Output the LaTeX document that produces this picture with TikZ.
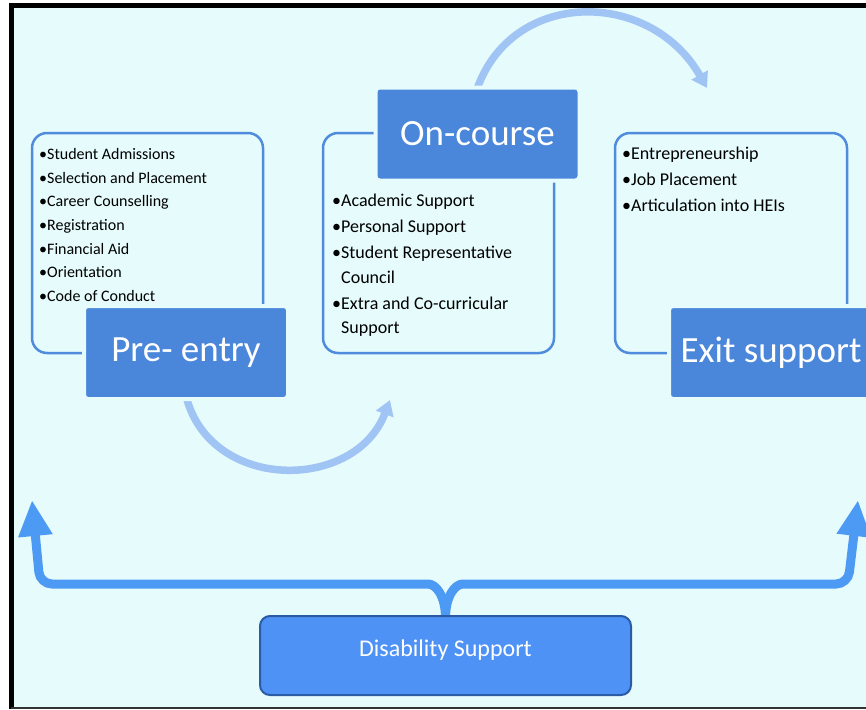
\documentclass[tikz,border=0pt]{standalone}
\usepackage{fontspec}
\setmainfont{Carlito}
\usepackage{xcolor}
\usetikzlibrary{arrows.meta}

\definecolor{paper}{RGB}{230,251,252}
\definecolor{tagblue}{RGB}{74,134,218}
\definecolor{rimblue}{RGB}{80,140,222}
\definecolor{arcblue}{RGB}{160,197,245}
\definecolor{forkblue}{RGB}{77,154,245}
\definecolor{disblue}{RGB}{78,146,246}
\definecolor{disrim}{RGB}{42,92,165}

\begin{document}
\begin{tikzpicture}[x=1pt,y=-1pt,
  panel/.style={draw=rimblue,line width=2.5pt,rounded corners=15pt,minimum width=231pt,minimum height=220pt,inner sep=0pt},
  tagbox/.style={fill=tagblue,draw=paper,line width=4pt,rounded corners=4pt,minimum width=204pt,minimum height=93pt,text=white,font=\fontsize{37}{40}\selectfont},
  items/.style={anchor=north west,inner sep=0pt,align=left,text=black},
  swoop/.style={arcblue,line width=7.5pt,-{Triangle[width=18pt,length=15pt]}},
  fork/.style={forkblue,line width=9pt,-{Triangle[width=32pt,length=36pt]}}]
  \useasboundingbox (0,0) rectangle (866,709);
  \clip (0,0) rectangle (866,709);
  \fill[paper] (11,6) rectangle (866,708);
  \draw[line width=5pt] (11.5,709) -- (11.5,6) -- (866,6);
  \draw[black!80,line width=2pt] (11,708) -- (866,708);

  % the three stages
  \node[panel] (preframe) at (147.5,243) {};
  \node[panel] (onframe) at (438.5,243) {};
  \node[panel,minimum width=232pt] (exitframe) at (731,243) {};

  \node[items,font=\fontsize{16}{23.7}\selectfont] (prelist) at (39,148)
    {\textbullet Student Admissions\\ \textbullet Selection and Placement\\ \textbullet Career Counselling\\
     \textbullet Registration\\ \textbullet Financial Aid\\ \textbullet Orientation\\ \textbullet Code of Conduct};
  \node[items,font=\fontsize{18}{24.5}\selectfont] (onlist) at (332,194)
    {\textbullet Academic Support\\[1.5pt] \textbullet Personal Support\\[1.5pt] \textbullet Student Representative\\
     \phantom{\textbullet}Council\\[1.5pt] \textbullet Extra and Co-curricular\\ \phantom{\textbullet}Support};
  \node[items,font=\fontsize{18}{26}\selectfont] (exitlist) at (622,147)
    {\textbullet Entrepreneurship\\ \textbullet Job Placement\\ \textbullet Articulation into HEIs};

  \coordinate (onin) at (390,400);
  \coordinate (exitin) at (707,88);
  \draw[swoop] (186,396) .. controls (210,492) and (355,492) .. (onin);
  \draw[swoop] (476,92) .. controls (510,-12) and (650,-12) .. (exitin);

  \node[tagbox] (pretag) at (186,352.5) {Pre- entry};
  \node[tagbox] (ontag) at (477.5,134) {On-course};
  \node[tagbox] (exittag) at (771,352.5) {Exit support};

  % disability support feeds both ends
  \coordinate (leftup) at (32,500);
  \coordinate (rightup) at (858,500);
  \draw[fork] (445.5,618) .. controls +(0,-22) and +(8,0) .. (428,584) [rounded corners=12pt] -- (40,584) -- (leftup);
  \draw[fork] (445.5,618) .. controls +(0,-22) and +(-8,0) .. (463,584) [rounded corners=12pt] -- (848,584) -- (rightup);
  \node[fill=disblue,draw=disrim,line width=2pt,rounded corners=10pt,minimum width=371pt,minimum height=79pt,
        text height=17pt,text depth=15pt,text=white,font=\fontsize{24}{28}\selectfont] (distag) at (445.5,655.5) {Disability Support};
\end{tikzpicture}
\end{document}
